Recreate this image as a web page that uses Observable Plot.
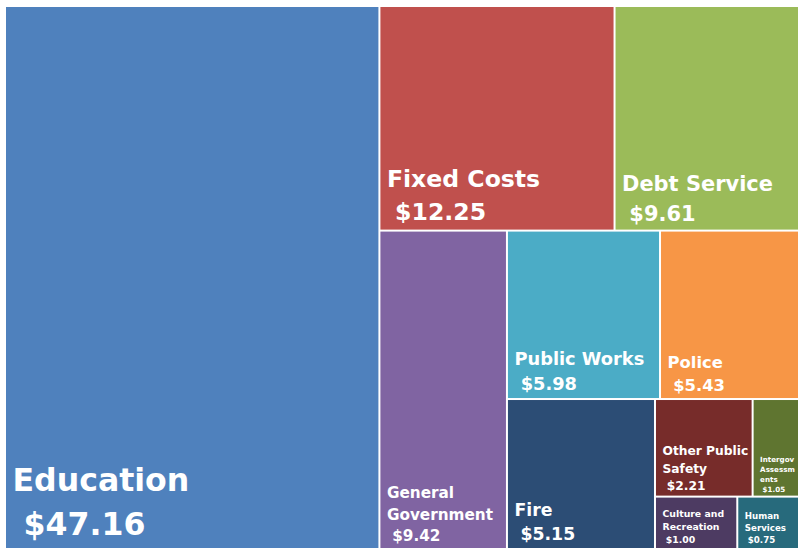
<!DOCTYPE html>
<html>
<head>
<meta charset="utf-8">
<script src="https://cdn.jsdelivr.net/npm/d3@7"></script>
<script src="https://cdn.jsdelivr.net/npm/@observablehq/plot@0.6"></script>
<style>
  html, body { margin: 0; padding: 0; background: #ffffff; }
  #chart svg { display: block; }
</style>
</head>
<body>
<div id="chart"></div>
<script>
// ---- data ----
const categories = ["Education", "Fixed Costs", "Debt Service", "General Government", "Public Works", "Police", "Fire", "Other Public Safety", "Intergov Assessments", "Culture and Recreation", "Human Services"];
const values = [47.16, 12.25, 9.61, 9.42, 5.98, 5.43, 5.15, 2.21, 1.05, 1.00, 0.75];
const palette = ["#4F81BD", "#C0504D", "#9BBB59", "#8064A2", "#4BACC6", "#F79646", "#2C4D75", "#772C2A", "#5F7530", "#4D3B62", "#276A7C"];
// how many categories go into each successive strip of the layout
const stripCounts = [1, 2, 1, 2, 1, 2, 1, 1];

// ---- layout (in pixel-sized units) ----
const W = 794, H = 543;
const FONT = '"DejaVu Sans"';

function stripTile(parent, x0, y0, x1, y1) {
  const nodes = parent.children;
  let remaining = parent.value, i = 0;
  for (const count of stripCounts) {
    const group = nodes.slice(i, i + count);
    i += count;
    if (!group.length) break;
    const sum = d3.sum(group, d => d.value);
    const dx = x1 - x0, dy = y1 - y0;
    if (dx >= dy) {
      const w = dx * sum / remaining;
      let y = y0;
      for (const n of group) { const h = dy * n.value / sum; n.x0 = x0; n.x1 = x0 + w; n.y0 = y; n.y1 = y + h; y += h; }
      x0 += w;
    } else {
      const h = dy * sum / remaining;
      let x = x0;
      for (const n of group) { const w = dx * n.value / sum; n.y0 = y0; n.y1 = y0 + h; n.x0 = x; n.x1 = x + w; x += w; }
      y0 += h;
    }
    remaining -= sum;
  }
}

const root = d3.hierarchy({children: categories.map((name, i) => ({name, value: values[i]}))})
  .sum(d => d.value || 0);
d3.treemap().size([W, H]).tile(stripTile).round(false)(root);

const ctx = document.createElement("canvas").getContext("2d");
function wrap(text, size, maxW) {
  ctx.font = `bold ${size}px ${FONT}`;
  const fits = s => ctx.measureText(s).width <= maxW;
  const lines = [];
  let cur = "";
  for (const word of text.split(" ")) {
    const trial = cur ? cur + " " + word : word;
    if (fits(trial)) { cur = trial; continue; }
    if (cur) lines.push(cur);
    let w = word;
    while (!fits(w) && w.length > 1) {
      let k = w.length - 1;
      while (k > 1 && !fits(w.slice(0, k))) k--;
      lines.push(w.slice(0, k));
      w = w.slice(k);
    }
    cur = w;
  }
  if (cur) lines.push(cur);
  return lines;
}

const cells = root.leaves().map(n => {
  const w = n.x1 - n.x0, h = n.y1 - n.y0;
  const m = Math.min(w, h);
  const fs = Math.min(1.836 * Math.sqrt(m) - 3.94, 2.5 + 0.1 * w);
  const lines = wrap(n.data.name, fs, w - 9);
  return {
    name: n.data.name,
    value: n.data.value,
    x0: n.x0, x1: n.x1, y0: n.y0, y1: n.y1,
    fs,
    tx: n.x0 + 7,
    ty: n.y1 - (0.35 * fs + 3),
    label: lines.join("\n") + "\n\u00A0$" + n.data.value.toFixed(2)
  };
});

const chart = Plot.plot({
  width: 798,
  height: 553,
  margin: 0,
  x: {domain: [0, W], range: [5, 5 + W], axis: null},
  y: {domain: [0, H], range: [6, 6 + H], axis: null},
  color: {domain: categories, range: palette},
  style: {background: "#ffffff"},
  marks: [
    Plot.rect(cells, {x1: "x0", x2: "x1", y1: "y0", y2: "y1", fill: "name", inset: 1}),
    Plot.text(cells, {
      x: "tx", y: "ty", text: "label",
      fontSize: d => d.fs,
      textAnchor: "start", lineAnchor: "bottom", lineHeight: 1.4,
      fill: "white", fontWeight: "bold", fontFamily: "DejaVu Sans"
    })
  ]
});
document.getElementById("chart").append(chart);
</script>
</body>
</html>
